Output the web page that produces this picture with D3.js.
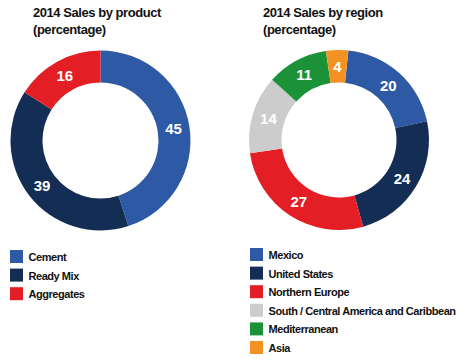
<!DOCTYPE html>
<html><head><meta charset="utf-8">
<script src="https://cdn.jsdelivr.net/npm/d3@7"></script>
<style>
html,body{margin:0;padding:0;background:#fff;}
svg{display:block;font-family:"Liberation Sans",Arial,sans-serif;}
</style></head>
<body>
<svg id="chart" width="466" height="360"></svg>
<script>
// Data
const productCategories = ["Cement", "Ready Mix", "Aggregates"];
const productValues = [45, 39, 16];
const productColors = ["#2E5AA5", "#142D54", "#E31E24"];

const regionCategories = ["Mexico", "United States", "Northern Europe", "South / Central America and Caribbean", "Mediterranean", "Asia"];
const regionValues = [20, 24, 27, 14, 11, 4];
const regionColors = ["#2E5AA5", "#142D54", "#E31E24", "#CCCCCC", "#1C9238", "#F39122"];

const titles = [["2014 Sales by product", "(percentage)"], ["2014 Sales by region", "(percentage)"]];

const svg = d3.select("#chart");

function donut(cfg) {
  const g = svg.append("g");
  // title
  const t = g.append("text").attr("x", cfg.titleX).attr("y", 17)
    .attr("font-size", 13).attr("font-weight", "bold").attr("fill", "#111")
    .attr("letter-spacing", -0.45);
  t.append("tspan").attr("x", cfg.titleX).attr("dy", 0).text(cfg.title[0]);
  t.append("tspan").attr("x", cfg.titleX).attr("dy", 17).text(cfg.title[1]);

  const pie = d3.pie().sort(null).value(d => d.v)
    .startAngle(cfg.start).endAngle(cfg.start + 2 * Math.PI);
  const data = cfg.cats.map((c, i) => ({c, v: cfg.vals[i], col: cfg.colors[i]}));
  const arc = d3.arc().innerRadius(cfg.ri).outerRadius(cfg.ro);
  const arcs = pie(data);
  const pg = g.append("g").attr("transform", `translate(${cfg.cx},${cfg.cy})`);
  pg.selectAll("path").data(arcs).join("path")
    .attr("d", arc).attr("fill", d => d.data.col);
  pg.selectAll("text").data(arcs).join("text")
    .attr("transform", d => `translate(${arc.centroid(d)})`)
    .attr("text-anchor", "middle").attr("dy", "0.36em")
    .attr("font-size", 15).attr("font-weight", "bold").attr("fill", "#fff")
    .text(d => d.data.v);

  // legend
  const lg = g.append("g").attr("transform", `translate(${cfg.legX},${cfg.legY})`);
  const row = lg.selectAll("g").data(data).join("g")
    .attr("transform", (d, i) => `translate(0,${i * 18.6})`);
  row.append("rect").attr("width", 13).attr("height", 13).attr("fill", d => d.col);
  row.append("text").attr("x", 18.5).attr("y", 11)
    .attr("font-size", 11).attr("font-weight", "bold").attr("fill", "#111")
    .attr("letter-spacing", -0.45)
    .text(d => d.c);
}

const deg = Math.PI / 180;
donut({title: titles[0], titleX: 33, cats: productCategories, vals: productValues, colors: productColors,
  cx: 100.5, cy: 140.5, ro: 90, ri: 58, start: 0 * deg, legX: 10, legY: 250});
donut({title: titles[1], titleX: 263, cats: regionCategories, vals: regionValues, colors: regionColors,
  cx: 339, cy: 140, ro: 90, ri: 57.5, start: 6 * deg, legX: 250, legY: 248});
</script>
</body></html>
